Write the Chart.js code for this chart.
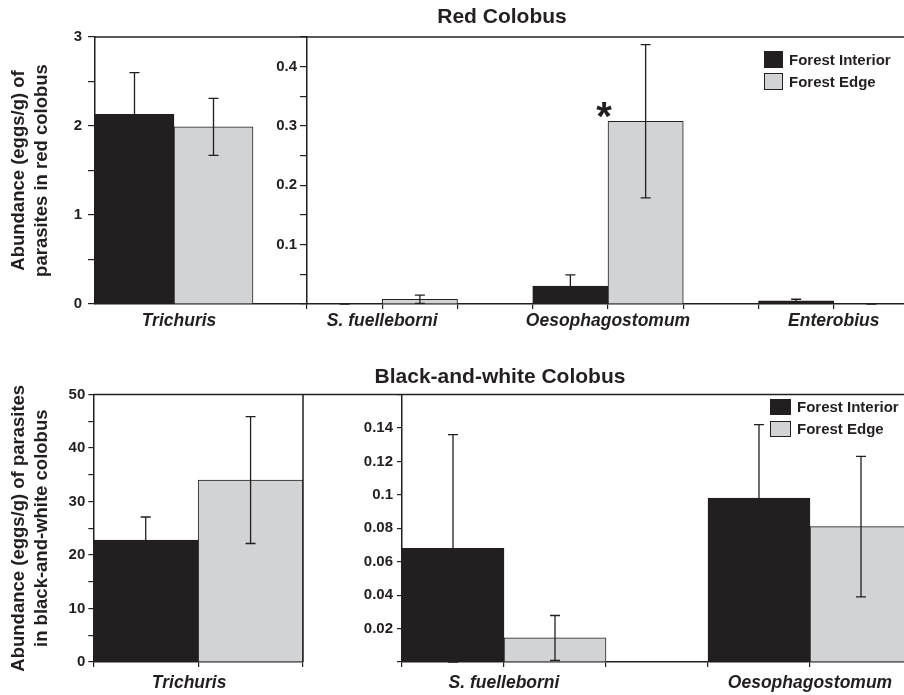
<!DOCTYPE html>
<html>
<head>
<meta charset="utf-8">
<script src="https://cdn.jsdelivr.net/npm/chart.js@4.4.1/dist/chart.umd.min.js"></script>
<style>
  html, body { margin: 0; padding: 0; background: #fff; }
  #wrap { position: relative; width: 904px; height: 695px; overflow: hidden; }
  #wrap canvas { position: absolute; }
  .leg { position: absolute; font: bold 15px "Liberation Sans", Arial, sans-serif; color: #231f20; }
</style>
</head>
<body>
<div id="wrap">
  <canvas id="rcLeft" width="307" height="340" style="left:0;top:0"></canvas>
  <canvas id="rcRight" width="814" height="340" style="left:95px;top:0"></canvas>
  <canvas id="bwLeft" width="304" height="345" style="left:0;top:350px"></canvas>
  <canvas id="bwRight" width="824" height="345" style="left:88px;top:350px"></canvas>
</div>
<script>
// Red colobus - Trichuris (own axis)
var rcLeftCats = ['Trichuris'];
var rcLeftInterior = [2.13];
var rcLeftInteriorErr = [0.47];
var rcLeftEdge = [1.99];
var rcLeftEdgeErr = [0.32];

// Red colobus - other parasites
var rcCats = ['S. fuelleborni', 'Oesophagostomum', 'Enterobius'];
var rcInterior = [0, 0.030, 0.0055];
var rcInteriorErr = [0, 0.019, 0.0025];
var rcEdge = [0.008, 0.308, 0];
var rcEdgeErr = [0.007, 0.129, 0];
var rcSig = ['', '*', ''];

// Black-and-white colobus - Trichuris
var bwLeftCats = ['Trichuris'];
var bwLeftInterior = [22.8];
var bwLeftInteriorErr = [4.3];
var bwLeftEdge = [34.0];
var bwLeftEdgeErr = [11.85];

// Black-and-white colobus - other parasites
var bwCats = ['S. fuelleborni', 'Oesophagostomum'];
var bwInterior = [0.068, 0.098];
var bwInteriorErr = [0.068, 0.044];
var bwEdge = [0.0144, 0.081];
var bwEdgeErr = [0.0134, 0.042];

var seriesNames = ['Forest Interior', 'Forest Edge'];

var ink = '#231f20';
var interiorColor = '#231f20';
var edgeColor = '#d1d3d4';
var fontFamily = '"Liberation Sans", Arial, sans-serif';

Chart.defaults.font.family = fontFamily;
Chart.defaults.color = ink;

// error bars + significance marks, drawn through the chart's own scales
var errorBars = {
	id: 'errorBars',
	afterDatasetsDraw: function(chart) {
		var ctx = chart.ctx;
		var y = chart.scales.y;
		ctx.save();
		ctx.strokeStyle = ink;
		ctx.lineWidth = 1.3;
		chart.data.datasets.forEach(function(ds, di) {
			var meta = chart.getDatasetMeta(di);
			meta.data.forEach(function(bar, i) {
				var v = ds.data[i].y, e = ds.errors[i];
				var top = y.getPixelForValue(v + e);
				var bot = y.getPixelForValue(Math.max(v - e, 0));
				var cap = 5;
				ctx.beginPath();
				ctx.moveTo(bar.x, top); ctx.lineTo(bar.x, bot);
				ctx.moveTo(bar.x - cap, top); ctx.lineTo(bar.x + cap, top);
				ctx.moveTo(bar.x - cap, bot); ctx.lineTo(bar.x + cap, bot);
				ctx.stroke();
				if (ds.sig && ds.sig[i]) {
					ctx.fillStyle = ink;
					ctx.font = 'bold 40px ' + fontFamily;
					ctx.textAlign = 'center';
					ctx.textBaseline = 'alphabetic';
					ctx.fillText(ds.sig[i], bar.x - bar.width / 2 - 4, bar.y + 9);
				}
			});
		});
		ctx.restore();
	}
};

// top edge of the plot frame (and optional right edge)
var frame = {
	id: 'frame',
	afterDraw: function(chart, args, opts) {
		var a = chart.chartArea, ctx = chart.ctx;
		ctx.save();
		ctx.strokeStyle = ink;
		ctx.lineWidth = 1.5;
		ctx.beginPath();
		ctx.moveTo(a.left - (opts.extendLeft || 0), a.top);
		ctx.lineTo(a.right, a.top);
		if (opts.right) {
			ctx.moveTo(a.right, a.top);
			ctx.lineTo(a.right, a.bottom);
		}
		ctx.stroke();
		ctx.restore();
	}
};

function pts(vals) {
	return vals.map(function(v, i) { return {x: i + 1, y: v}; });
}

function barSets(interior, interiorErr, edge, edgeErr, sig, thickness) {
	return [
		{label: seriesNames[0], data: pts(interior), errors: interiorErr,
			backgroundColor: interiorColor, borderColor: ink, borderWidth: 1, barThickness: thickness},
		{label: seriesNames[1], data: pts(edge), errors: edgeErr, sig: sig,
			backgroundColor: edgeColor, borderColor: ink, borderWidth: 1, barThickness: thickness}
	];
}

function xAxis(cats, min, max, tickVals, tickLen, pad, height, labelOffset) {
	return {
		type: 'linear', min: min, max: max, offset: false, bounds: 'data',
		afterBuildTicks: function(s) { s.ticks = tickVals.map(function(v) { return {value: v}; }); },
		afterFit: function(s) { s.height = height; s.paddingLeft = 0; s.paddingRight = 0; },
		grid: {display: true, drawOnChartArea: false, drawTicks: tickLen > 0, tickLength: tickLen,
			color: ink, lineWidth: 1.2, offset: false},
		border: {display: true, color: ink, width: 1.5},
		ticks: {autoSkip: false, maxRotation: 0, padding: pad, labelOffset: labelOffset || 0, color: ink,
			font: {family: fontFamily, size: 17.5, weight: 'bold', style: 'italic'},
			callback: function(v) {
				var k = Math.round(v);
				return (Math.abs(v - k) < 1e-6 && cats[k - 1]) ? cats[k - 1] : '';
			}}
	};
}

function yAxis(min, max, step, labelFn, width, tickLen, pad, title) {
	var ax = {
		min: min, max: max,
		afterFit: function(s) { s.width = width; },
		grid: {display: true, drawOnChartArea: false, drawTicks: true, tickLength: tickLen, color: ink, lineWidth: 1.2},
		border: {display: true, color: ink, width: 1.5},
		ticks: {stepSize: step, autoSkip: false, padding: pad, color: ink,
			font: {family: fontFamily, size: 15, weight: 'bold'},
			callback: labelFn}
	};
	if (title) {
		ax.title = {display: true, text: title, color: ink,
			font: {family: fontFamily, size: 18.5, weight: 'bold', lineHeight: 1.25},
			padding: {top: 7, bottom: 0}};
	}
	return ax;
}

function thirds(from, to) {
	var out = [];
	for (var k = from; k <= to; k++) out.push(k / 3);
	return out;
}

var baseOpts = {responsive: false, animation: false, events: []};

// ---- Red colobus, Trichuris
new Chart(document.getElementById('rcLeft'), {
	type: 'bar',
	data: {datasets: barSets(rcLeftInterior, rcLeftInteriorErr, rcLeftEdge, rcLeftEdgeErr, null, 79)},
	options: Object.assign({}, baseOpts, {
		layout: {padding: {top: 37, left: 0, right: 0, bottom: 0}},
		plugins: {legend: {display: false}, tooltip: {enabled: false}, frame: {}},
		scales: {
			x: xAxis(rcLeftCats, 0, 212 / 79, [1], 0, 7, 36, 5),
			y: yAxis(0, 3, 0.5, function(v) { return Number.isInteger(v) ? String(v) : ''; },
				95, 7, 6, ['Abundance (eggs/g) of', 'parasites in red colobus'])
		}
	}),
	plugins: [errorBars, frame]
});

// ---- Red colobus, other parasites
var rcChart = new Chart(document.getElementById('rcRight'), {
	type: 'bar',
	data: {datasets: barSets(rcInterior, rcInteriorErr, rcEdge, rcEdgeErr, rcSig, 602 / (8 / 3) / 3)},
	options: Object.assign({}, baseOpts, {
		plugins: {
			legend: {display: false}, tooltip: {enabled: false}, frame: {},
			title: {display: true, text: 'Red Colobus', color: ink,
				font: {family: fontFamily, size: 21, weight: 'bold', lineHeight: 1.2},
				padding: {top: 5, bottom: 6.8}}
		},
		scales: {
			x: xAxis(rcCats, 2 / 3, 10 / 3, thirds(2, 10), 5, 2, 36),
			y: yAxis(0, 0.45, 0.05, function(v) {
				var r = Math.round(v * 100);
				return (r % 10 === 0 && r > 0) ? String(r / 100) : '';
			}, 212, 7, 3)
		}
	}),
	plugins: [errorBars, frame]
});

// ---- Black-and-white colobus, Trichuris
new Chart(document.getElementById('bwLeft'), {
	type: 'bar',
	data: {datasets: barSets(bwLeftInterior, bwLeftInteriorErr, bwLeftEdge, bwLeftEdgeErr, null, 209.7 / 2)},
	options: Object.assign({}, baseOpts, {
		layout: {padding: {top: 44.5, left: 0, right: 1, bottom: 0}},
		plugins: {legend: {display: false}, tooltip: {enabled: false}, frame: {right: true}},
		scales: {
			x: xAxis(bwLeftCats, 0, 2, [0, 1, 2], 5, 6, 33, -9),
			y: yAxis(0, 50, 5, function(v) { return v % 10 === 0 ? String(v) : ''; },
				93.3, 5, 3, ['Abundance (eggs/g) of parasites', 'in black-and-white colobus'])
		}
	}),
	plugins: [errorBars, frame]
});

// ---- Black-and-white colobus, other parasites
var bwChart = new Chart(document.getElementById('bwRight'), {
	type: 'bar',
	data: {datasets: barSets(bwInterior, bwInteriorErr, bwEdge, bwEdgeErr, null, 102)},
	options: Object.assign({}, baseOpts, {
		plugins: {
			legend: {display: false}, tooltip: {enabled: false}, frame: {extendLeft: 99},
			title: {display: true, text: 'Black-and-white Colobus', color: ink,
				font: {family: fontFamily, size: 21, weight: 'bold', lineHeight: 1.2},
				padding: {top: 15, bottom: 4.3}}
		},
		scales: {
			x: xAxis(bwCats, 2 / 3, 7 / 3, thirds(2, 7), 5, 6, 33),
			y: yAxis(0, 0.16, 0.02, function(v) {
				var r = Math.round(v * 100);
				return (r > 0 && r < 16) ? String(r / 100) : '';
			}, 314, 5, 4)
		}
	}),
	plugins: [errorBars, frame]
});

// legends built from the datasets
function htmlLegend(chart, left, top, boxW, boxH, gap, pitch) {
	var wrap = document.getElementById('wrap');
	chart.data.datasets.forEach(function(ds, i) {
		var row = document.createElement('div');
		row.className = 'leg';
		row.style.left = left + 'px';
		row.style.top = (top + i * pitch) + 'px';
		var box = document.createElement('span');
		box.style.cssText = 'position:absolute;left:0;top:0;box-sizing:border-box;width:' + boxW +
			'px;height:' + boxH + 'px;background:' + ds.backgroundColor + ';border:1px solid ' + ink;
		var txt = document.createElement('span');
		txt.textContent = ds.label;
		txt.style.cssText = 'position:absolute;top:0;left:' + gap + 'px;line-height:' + boxH + 'px;white-space:nowrap';
		row.appendChild(box);
		row.appendChild(txt);
		wrap.appendChild(row);
	});
}
htmlLegend(rcChart, 764, 51, 19, 17, 25, 22);
htmlLegend(bwChart, 770, 399, 21, 16, 27, 22);
</script>
</body>
</html>
